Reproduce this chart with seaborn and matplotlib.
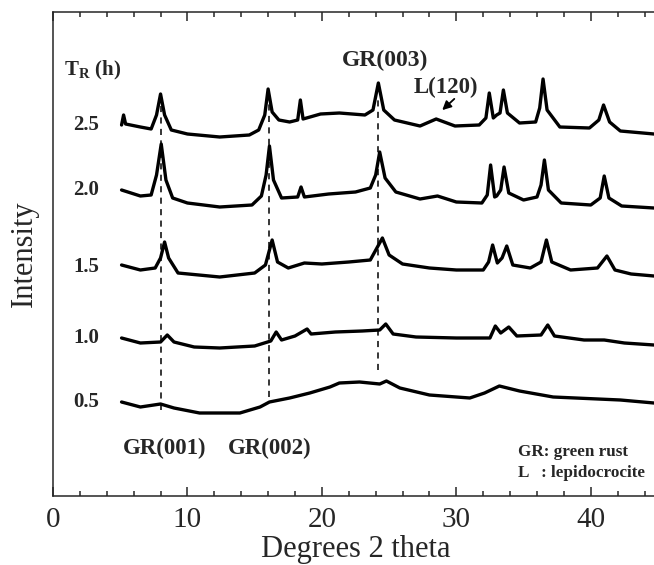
import matplotlib
matplotlib.use('Agg')
import matplotlib.pyplot as plt
import seaborn as sns
import pandas as pd
from matplotlib.ticker import MultipleLocator

# reaction time of each pattern (h), top to bottom
times = ["2.5", "2.0", "1.5", "1.0", "0.5"]

# 2-theta (deg) and intensity (a.u., relative to each pattern's own level)
deg_25 = [5.1, 5.25, 5.4, 6.5, 7.3, 7.7, 8.0, 8.3, 8.8, 10.0, 12.4, 14.6, 15.3, 15.75, 16.0, 16.3,
          16.8, 17.6, 18.2, 18.4, 18.6, 19.9, 21.3, 23.2, 23.8, 24.2, 24.6, 25.4, 27.3, 28.5, 29.9,
          31.7, 32.2, 32.45, 32.75, 33.0, 33.25, 33.5, 33.8, 34.7, 35.9, 36.2, 36.45, 36.75, 37.7,
          39.9, 40.6, 40.95, 41.4, 42.2, 44.7]
int_25 = [0, 10, 1, -2, -4, 10, 31, 10, -5, -9, -12, -10, -5, 10, 36, 13,
          5, 3, 5, 25, 6, 11, 12, 10, 15, 42, 15, 5, -1, 6, -1,
          0, 7, 32, 7, 10, 12, 35, 12, 2, 3, 17, 46, 15, -2,
          -3, 5, 20, 3, -6, -9]

deg_20 = [5.1, 6.5, 7.3, 7.7, 8.05, 8.4, 8.9, 10.0, 12.4, 14.8, 15.5, 15.85, 16.1, 16.4, 17.0,
          18.2, 18.45, 18.7, 20.5, 22.5, 23.6, 24.0, 24.3, 24.7, 25.5, 27.3, 28.6, 30.0, 31.9,
          32.3, 32.55, 32.85, 33.0, 33.3, 33.55, 33.9, 35.0, 36.0, 36.3, 36.55, 36.85, 37.8,
          40.0, 40.7, 41.0, 41.35, 42.3, 44.7]
int_20 = [0, -6, -5, 15, 46, 10, -8, -13, -17, -15, -6, 15, 44, 10, -8,
          -7, 3, -7, -4, -2, 2, 15, 38, 12, -2, -9, -6, -12, -13,
          -5, 25, -7, -6, 0, 23, -3, -10, -7, 5, 30, 0, -13,
          -15, -8, 14, -8, -16, -18]

deg_15 = [5.1, 6.5, 7.6, 8.0, 8.3, 8.6, 9.3, 12.4, 15.0, 15.8, 16.3, 16.7, 17.5, 18.7, 20.0,
          22.0, 23.6, 24.5, 25.0, 26.0, 28.0, 30.0, 32.0, 32.4, 32.7, 33.05, 33.4, 33.75, 34.2,
          35.5, 36.3, 36.7, 37.1, 38.5, 40.5, 41.2, 41.8, 43.0, 44.7]
int_15 = [2, -3, -1, 9, 25, 9, -6, -10, -6, 2, 27, 5, -1, 4, 3,
          5, 7, 29, 12, 3, -1, -3, -3, 5, 22, 4, 9, 21, 2,
          -1, 5, 27, 5, -3, -1, 11, -3, -7, -9]

deg_10 = [5.1, 6.5, 8.0, 8.5, 9.0, 10.5, 12.4, 15.0, 16.2, 16.6, 17.0, 18.0, 18.9, 19.2, 21.0,
          23.0, 24.3, 24.75, 25.3, 27.0, 30.0, 32.5, 32.9, 33.3, 33.9, 34.5, 36.3, 36.8, 37.3,
          39.5, 41.0, 42.5, 44.7]
int_10 = [0, -5, -4, 3, -4, -9, -10, -8, -3, 6, -2, 2, 9, 4, 6,
          7, 8, 14, 4, 1, 0, 0, 12, 5, 11, 2, 3, 13, 2,
          -2, -2, -5, -7]

deg_05 = [5.1, 6.5, 8.0, 9.0, 10.9, 13.9, 15.4, 16.1, 17.6, 19.1, 20.6, 21.3, 22.8, 24.3, 24.8,
          25.8, 28.0, 31.0, 32.1, 33.2, 34.7, 37.2, 42.2, 44.7]
int_05 = [0, -5, -2, -6, -11, -11, -5, 0, 4, 9, 15, 19, 20, 18, 21,
          14, 7, 4, 9, 16, 11, 5, 2, -1]

# vertical stacking of the patterns (a.u.)
offsets = [371, 306, 229, 158, 94]

# dashed guide lines for the green rust reflections: position, lower end, upper end
guide_deg = [8.0, 16.1, 24.2]
guide_low = [86, 99, 126]
guide_high = [396, 396, 401]

patterns = [(deg_25, int_25), (deg_20, int_20), (deg_15, int_15), (deg_10, int_10), (deg_05, int_05)]
rows = []
for t, off, (d, v) in zip(times, offsets, patterns):
    for x, y in zip(d, v):
        rows.append({"time": t, "deg": x, "intensity": y + off})
df = pd.DataFrame(rows)

sns.set_theme(style="ticks")
plt.rcParams['font.family'] = ['Liberation Serif', 'DejaVu Serif']
plt.rcParams['mathtext.fontset'] = 'custom'
plt.rcParams['mathtext.rm'] = 'Liberation Serif'
plt.rcParams['mathtext.bf'] = 'Liberation Serif:bold'

fig = plt.figure(figsize=(6.54, 5.65), dpi=100)
ax = fig.add_axes([53 / 654, 69 / 565, 605 / 654, 484 / 565])

for x, lo, hi in zip(guide_deg, guide_low, guide_high):
    ax.plot([x, x], [lo, hi], color="black", lw=1.1, ls=(0, (4, 3.5)), zorder=1)

sns.lineplot(data=df, x="deg", y="intensity", hue="time", palette=["black"] * 5,
             estimator=None, sort=False, legend=False, lw=2.4, ax=ax, zorder=2)

ax.set_xlim(0, 45)
ax.set_ylim(0, 484)
ax.xaxis.set_major_locator(MultipleLocator(10))
ax.xaxis.set_minor_locator(MultipleLocator(2))
ax.tick_params(axis="x", which="both", direction="in", top=True, labelsize=21, pad=8, width=1.1)
ax.tick_params(axis="x", which="major", length=6.5)
ax.tick_params(axis="x", which="minor", length=3.6)
ax.set_yticks([])
for s in ["left", "bottom", "top"]:
    ax.spines[s].set_linewidth(1.1)
ax.spines["right"].set_visible(False)
ax.set_xlabel("Degrees 2 theta", fontsize=22, labelpad=1)
ax.set_ylabel("Intensity", fontsize=22, labelpad=10)

# labels of the patterns
for t, off in zip(times, offsets):
    ax.text(3.42, off, t, ha="right", va="center", fontsize=15, fontweight="bold")
ax.text(0.8, 426, r"T$_\mathbf{R}$ (h)", ha="left", va="center", fontsize=15, fontweight="bold")

ax.text(24.7, 436, "GR(003)", ha="center", va="center", fontsize=17, fontweight="bold")
ax.text(29.2, 409, "L(120)", ha="center", va="center", fontsize=16.5, fontweight="bold")
ax.annotate("", xy=(28.8, 384), xytext=(30.0, 399),
            arrowprops=dict(arrowstyle="-|>", color="black", lw=1.3, mutation_scale=13))
ax.text(8.3, 48, "GR(001)", ha="center", va="center", fontsize=16.5, fontweight="bold")
ax.text(16.1, 48, "GR(002)", ha="center", va="center", fontsize=16.5, fontweight="bold")
ax.text(34.6, 44, "GR: green rust", ha="left", va="center", fontsize=12.3, fontweight="bold")
ax.text(34.6, 23, "L   : lepidocrocite", ha="left", va="center", fontsize=12.3, fontweight="bold")

fig.savefig("out.png", dpi=100)
